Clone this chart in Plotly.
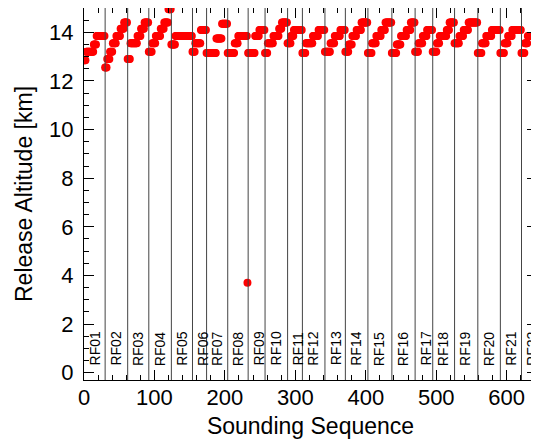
import plotly.graph_objects as go

# flight names and where each flight starts in the sounding sequence
flight_names = ["RF%02d" % i for i in range(1, 23)]
flight_start = [0, 30, 62, 92, 124, 154, 174, 204, 233, 257, 289,
                310, 342, 371, 403, 437, 470, 495, 526, 559, 591, 621]

# release altitude steps (km) and how many soundings at each step
flight_levels = [
    [12.85, 13.2, 13.5, 13.85],
    [12.55, 12.9, 13.2, 13.55, 13.85, 14.15, 14.4],
    [12.9, 13.55, 13.85, 14.15, 14.4],
    [13.2, 13.55, 13.85, 14.15, 14.4, 14.95],
    [13.5, 13.85],
    [13.2, 13.55, 14.1],
    [13.15, 13.75, 14.35],
    [13.15, 13.55, 13.85, 3.7],
    [13.15, 13.85, 14.1],
    [13.15, 13.55, 13.85, 14.15, 14.4],
    [13.55, 13.85, 14.1],
    [13.15, 13.55, 13.85, 14.1],
    [13.2, 13.55, 13.85, 14.1],
    [13.2, 13.5, 13.85, 14.1, 14.4],
    [13.15, 13.55, 13.85, 14.1, 14.4],
    [13.15, 13.5, 13.85, 14.1, 14.4],
    [13.2, 13.55, 13.85, 14.1],
    [13.2, 13.55, 13.85, 14.1, 14.4],
    [13.55, 13.85, 14.1, 14.4],
    [13.15, 13.55, 13.85, 14.1],
    [13.15, 13.55, 13.85, 14.1],
    [13.15, 13.55, 13.85],
]
flight_counts = [
    [3, 11, 4, 12],
    [3, 4, 4, 5, 6, 5, 5],
    [4, 10, 5, 5, 6],
    [5, 5, 7, 5, 6, 4],
    [6, 24],
    [4, 8, 8],
    [14, 8, 8],
    [10, 5, 13, 1],
    [10, 6, 8],
    [4, 8, 8, 4, 8],
    [5, 4, 12],
    [5, 10, 8, 9],
    [8, 6, 8, 7],
    [5, 5, 6, 7, 9],
    [6, 6, 7, 6, 9],
    [7, 6, 8, 6, 6],
    [5, 6, 6, 8],
    [6, 4, 10, 4, 7],
    [7, 6, 7, 13],
    [6, 6, 8, 12],
    [6, 5, 6, 13],
    [5, 4, 13],
]

seq = []
alt = []
n = 0
for levels, counts in zip(flight_levels, flight_counts):
    for lev, c in zip(levels, counts):
        for k in range(c):
            seq.append(n)
            alt.append(lev)
            n += 1

fig = go.Figure()
fig.add_trace(go.Scatter(x=seq, y=alt, mode="markers",
                         marker=dict(color="#ff0000", size=8, line=dict(width=0)),
                         showlegend=False))

for i, name in enumerate(flight_names):
    if i > 0:
        fig.add_shape(type="line", x0=flight_start[i], x1=flight_start[i],
                      y0=0, y1=1, xref="x", yref="paper",
                      line=dict(color="#444444", width=1))
    fig.add_annotation(x=flight_start[i] + 15, y=0.2, xref="x", yref="y",
                       text=name, textangle=-90, showarrow=False,
                       xanchor="center", yanchor="bottom",
                       font=dict(size=14, color="black"))

axis_style = dict(showline=True, linecolor="black", linewidth=1, mirror="allticks",
                  ticks="inside", ticklen=10, tickcolor="black", showgrid=False,
                  zeroline=False, automargin=False,
                  tickfont=dict(size=22, color="black"))

fig.update_xaxes(range=[0, 643], dtick=100, tick0=0,
                 minor=dict(ticks="inside", ticklen=5, dtick=20, tickcolor="black"),
                 title=dict(text="Sounding Sequence", font=dict(size=23, color="black"), standoff=8),
                 ticklabelstandoff=-2,
                 **axis_style)
fig.update_yaxes(range=[-0.3, 15], dtick=2, tick0=0,
                 minor=dict(ticks="inside", ticklen=5, dtick=0.5, tickcolor="black"),
                 title=dict(text="Release Altitude [km]", font=dict(size=23, color="black"), standoff=10),
                 ticklabelstandoff=5,
                 **axis_style)

# the page body adds an 8px margin, so the figure is sized to fill the rest of the window
fig.update_layout(width=531, height=432,
                  margin=dict(l=76, r=2, t=0, b=60),
                  plot_bgcolor="white", paper_bgcolor="white",
                  font=dict(family="Liberation Sans, Arial, sans-serif"))

fig.write_html("out.html")
